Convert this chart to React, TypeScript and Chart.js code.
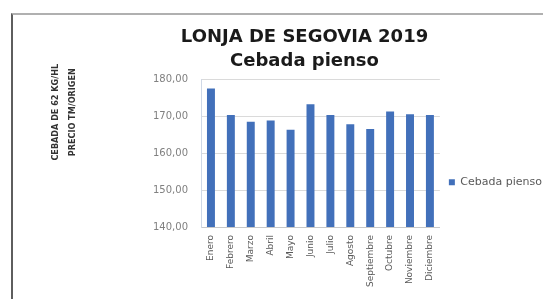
import React, { useEffect, useRef } from 'react';
import { Chart, registerables } from 'chart.js';

Chart.register(...registerables);

const categories = ['Enero', 'Febrero', 'Marzo', 'Abril', 'Mayo', 'Junio', 'Julio', 'Agosto', 'Septiembre', 'Octubre', 'Noviembre', 'Diciembre'];
const cebadaPienso = [177.5, 170.3, 168.5, 168.8, 166.3, 173.2, 170.3, 167.8, 166.5, 171.3, 170.5, 170.3];
const seriesLabel = 'Cebada pienso';
const titleLines = ['LONJA DE SEGOVIA 2019', 'Cebada pienso'];
const yAxisTitleLines = ['CEBADA DE 62 KG/HL', 'PRECIO TM/ORIGEN'];
const yMin = 140;
const yMax = 180;
const yStep = 10;

const BAR_COLOR = '#4270BA';

const yTitlePlugin = {
  id: 'yTitleCustom',
  afterDraw(chart: any) {
    const { ctx, chartArea } = chart;
    ctx.save();
    ctx.font = 'bold 9px "Liberation Sans Narrow", "DejaVu Sans Condensed", sans-serif';
    ctx.fillStyle = '#333333';
    ctx.textAlign = 'center';
    ctx.textBaseline = 'middle';
    const cy = chartArea.top + 33;
    yAxisTitleLines.forEach((line, i) => {
      ctx.save();
      ctx.translate(chartArea.left - 145 + i * 17, cy);
      ctx.rotate(-Math.PI / 2);
      ctx.fillText(line, 0, 0);
      ctx.restore();
    });
    ctx.restore();
  },
};

export default function App() {
  const canvasRef = useRef<HTMLCanvasElement | null>(null);

  useEffect(() => {
    if (!canvasRef.current) return;
    Chart.defaults.font.family = '"DejaVu Sans", sans-serif';
    const chart = new Chart(canvasRef.current, {
      type: 'bar',
      data: {
        labels: categories,
        datasets: [
          {
            label: seriesLabel,
            data: cebadaPienso,
            backgroundColor: BAR_COLOR,
            borderWidth: 0,
            categoryPercentage: 0.8,
            barPercentage: 0.5,
          },
        ],
      },
      options: {
        animation: false,
        responsive: false,
        devicePixelRatio: 1,
        layout: { padding: { left: 57, right: 0, top: 0, bottom: 0 } },
        plugins: {
          title: {
            display: true,
            text: titleLines,
            color: '#1a1a1a',
            font: { size: 18, weight: 'bold', lineHeight: 1.34 },
            padding: { top: 25.5, bottom: 5.5 },
          },
          legend: {
            display: true,
            position: 'right',
            title: { display: true, text: '', padding: { top: 0, bottom: 51 } },
            labels: {
              boxWidth: 6,
              boxHeight: 6,
              padding: 9,
              color: '#595959',
              font: { size: 11 },
            },
          },
          tooltip: { enabled: false },
        },
        scales: {
          x: {
            grid: { display: false, drawTicks: false },
            border: { display: true, color: '#c8c8c8' },
            ticks: {
              minRotation: 90,
              maxRotation: 90,
              padding: 8,
              color: '#595959',
              font: { size: 9 },
              autoSkip: false,
            },
            afterFit: (s: any) => {
              s.height = 72;
            },
          },
          y: {
            min: yMin,
            max: yMax,
            grid: { color: '#dadada', drawTicks: false },
            border: { display: true, color: '#cfd8e6' },
            ticks: {
              stepSize: yStep,
              padding: 13,
              color: '#808080',
              font: { size: 10 },
              callback: (v: any) => Number(v).toFixed(2).replace('.', ','),
            },
            afterFit: (s: any) => {
              s.width = 144;
            },
          },
        },
      },
      plugins: [yTitlePlugin],
    } as any);
    return () => chart.destroy();
  }, []);

  return (
    <div style={{ position: 'fixed', left: 0, top: 0, width: 543, height: 299, overflow: 'hidden', background: '#ffffff' }}>
      <div
        style={{
          position: 'absolute',
          left: 11,
          top: 13,
          width: 600,
          height: 400,
          borderLeft: '2px solid #5e5e5e',
          borderTop: '2px solid #b0b0b0',
        }}
      />
      <canvas ref={canvasRef} width={552} height={299} style={{ position: 'absolute', left: 0, top: 0, width: 552, height: 299 }} />
    </div>
  );
}
